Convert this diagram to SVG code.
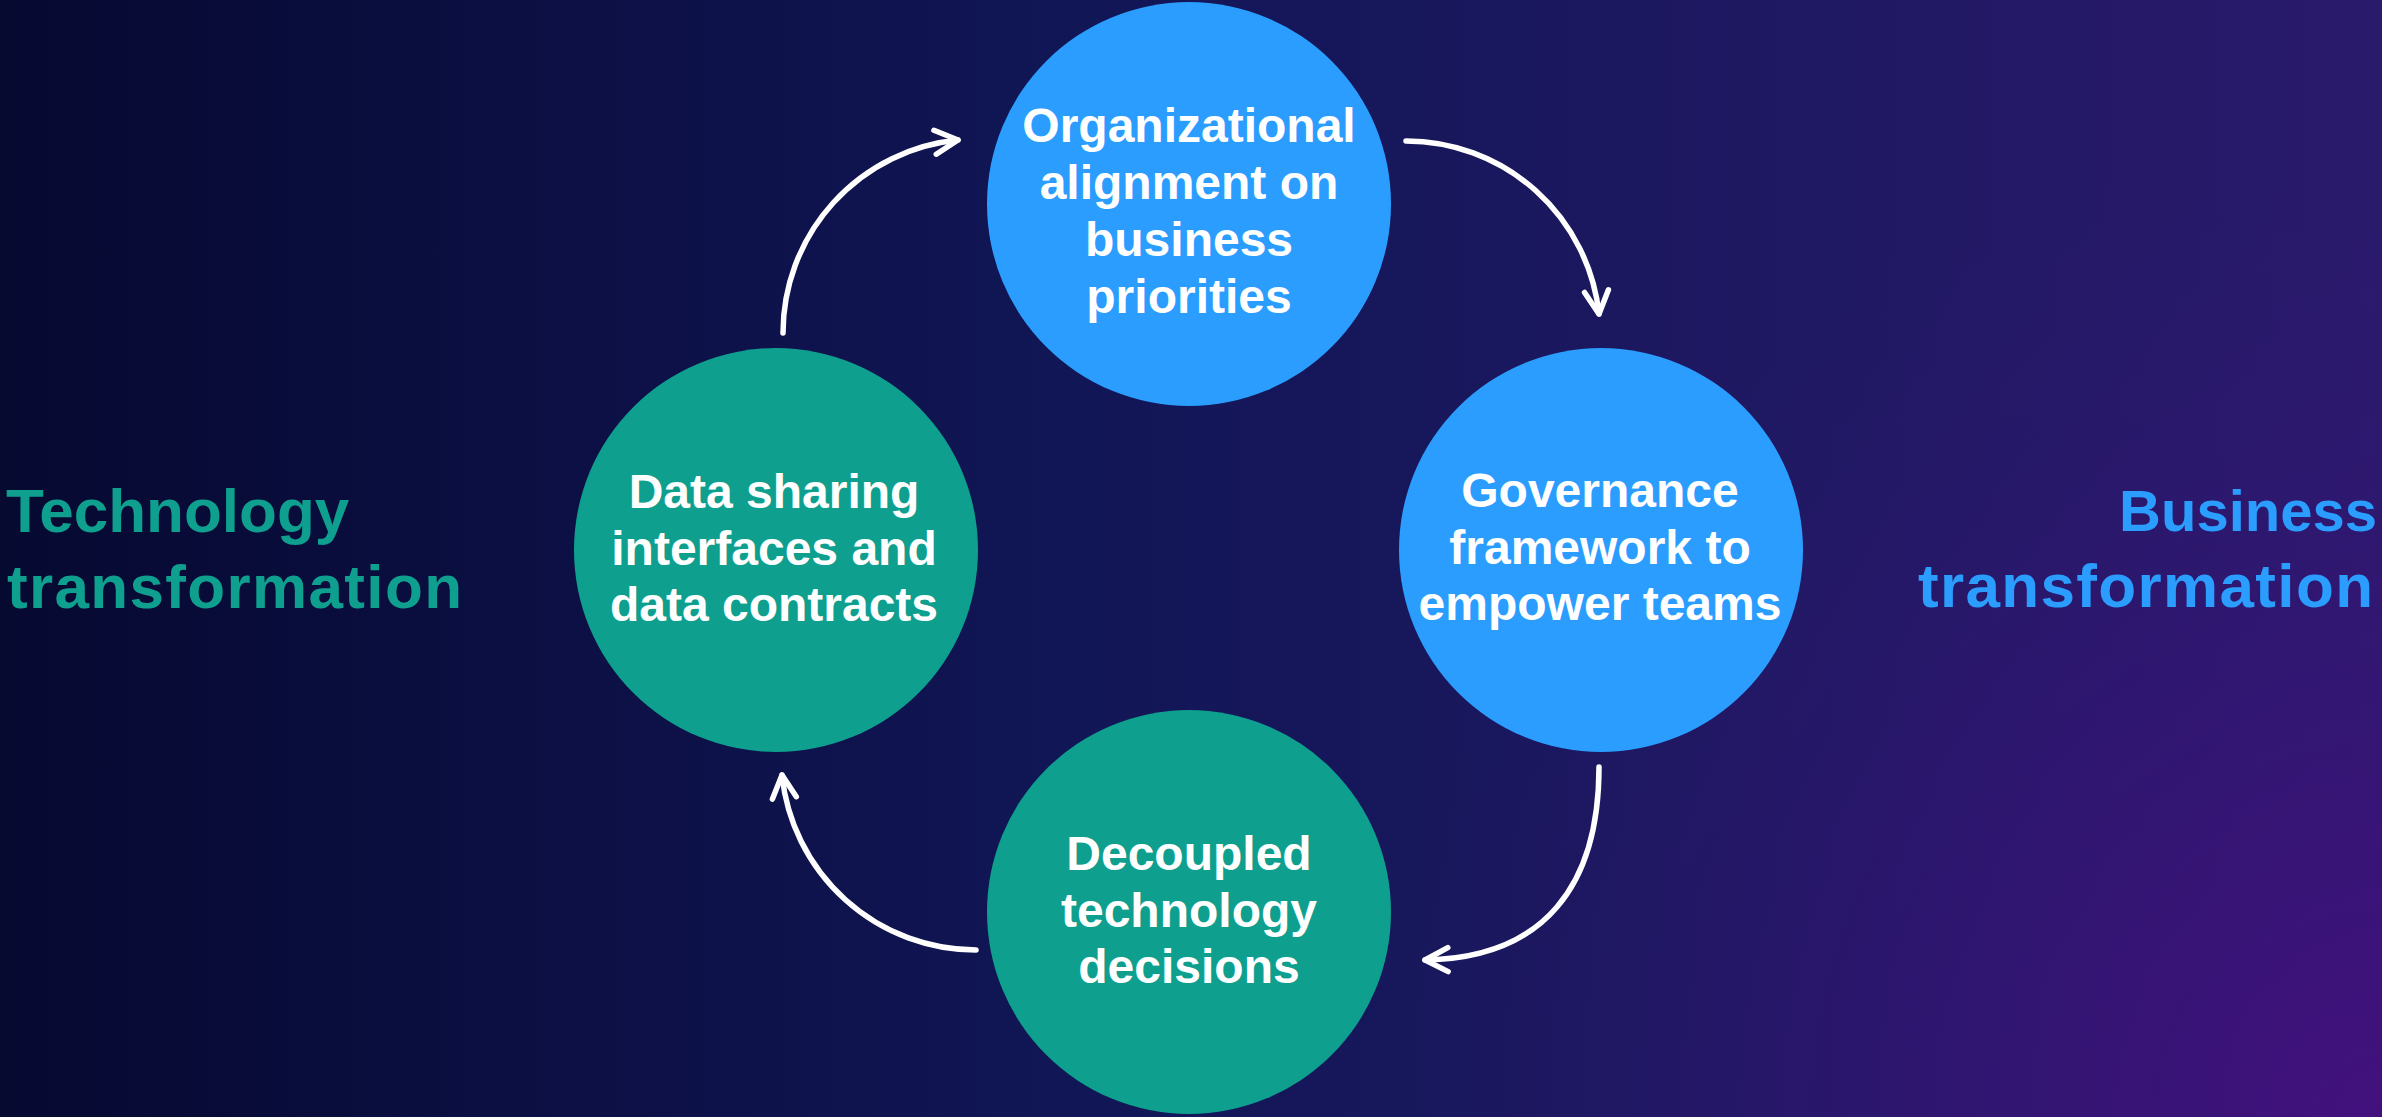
<svg xmlns="http://www.w3.org/2000/svg" width="2382" height="1117" viewBox="0 0 2382 1117">
  <defs>
    <linearGradient id="bg" x1="0" y1="0" x2="1" y2="0">
      <stop offset="0" stop-color="#060930"/>
      <stop offset="0.45" stop-color="#111656"/>
      <stop offset="1" stop-color="#2a1a6c"/>
    </linearGradient>
    <radialGradient id="glow" gradientUnits="userSpaceOnUse" cx="2382" cy="1117" r="1000">
      <stop offset="0" stop-color="#44107e" stop-opacity="0.95"/>
      <stop offset="0.5" stop-color="#3a137a" stop-opacity="0.45"/>
      <stop offset="1" stop-color="#2a1a6c" stop-opacity="0"/>
    </radialGradient>
    <marker id="chev" markerUnits="userSpaceOnUse" viewBox="-30 -18 36 36" markerWidth="36" markerHeight="36" refX="0" refY="0" orient="auto">
      <path d="M-23,-12 L0,0 L-23,12" fill="none" stroke="#ffffff" stroke-width="5.5" stroke-linecap="round" stroke-linejoin="round"/>
    </marker>
    <style>
      .blue { fill: #2a9dff; }
      .teal { fill: #0e9f8f; }
      .lbl { font-family: "Liberation Sans", Arial, sans-serif; font-weight: bold; font-size: 48px; fill: #ffffff; text-anchor: middle; }
      .side { font-family: "Liberation Sans", Arial, sans-serif; font-weight: bold; font-size: 62px; }
      .biz { font-size: 58px; text-anchor: end; }
      .conn { fill: none; stroke: #ffffff; stroke-width: 5.5; stroke-linecap: round; marker-end: url(#chev); }
    </style>
  </defs>

  <rect x="0" y="0" width="2382" height="1117" fill="url(#bg)"/>
  <rect x="0" y="0" width="2382" height="1117" fill="url(#glow)"/>

  <g id="connectors">
    <path class="conn" d="M783,333 A194,194 0 0 1 958,140"/>
    <path class="conn" d="M1406,141 A194,194 0 0 1 1599,314"/>
    <path class="conn" d="M1599,767 C1599,885 1545,958 1425,960"/>
    <path class="conn" d="M976,950 A195,195 0 0 1 782,775"/>
  </g>

  <g id="node-org">
    <circle class="blue" cx="1189" cy="204" r="202"/>
    <text class="lbl" x="1189" y="142">Organizational</text>
    <text class="lbl" x="1189" y="199">alignment on</text>
    <text class="lbl" x="1189" y="256">business</text>
    <text class="lbl" x="1189" y="313">priorities</text>
  </g>

  <g id="node-gov">
    <circle class="blue" cx="1601" cy="550" r="202"/>
    <text class="lbl" x="1600" y="507">Governance</text>
    <text class="lbl" x="1600" y="564">framework to</text>
    <text class="lbl" x="1600" y="620">empower teams</text>
  </g>

  <g id="node-dec">
    <circle class="teal" cx="1189" cy="912" r="202"/>
    <text class="lbl" x="1189" y="870">Decoupled</text>
    <text class="lbl" x="1189" y="927">technology</text>
    <text class="lbl" x="1189" y="983">decisions</text>
  </g>

  <g id="node-data">
    <circle class="teal" cx="776" cy="550" r="202"/>
    <text class="lbl" x="774" y="508">Data sharing</text>
    <text class="lbl" x="774" y="565">interfaces and</text>
    <text class="lbl" x="774" y="621">data contracts</text>
  </g>

  <g id="label-tech">
    <text class="side" x="6" y="532" fill="#0e9f8f">Technology</text>
    <text class="side" x="7" y="608" fill="#0e9f8f" textLength="455">transformation</text>
  </g>

  <g id="label-biz">
    <text class="side biz" x="2377" y="531" fill="#2a9dff">Business</text>
    <text class="side" x="1918" y="607" fill="#2a9dff" textLength="455">transformation</text>
  </g>
</svg>
